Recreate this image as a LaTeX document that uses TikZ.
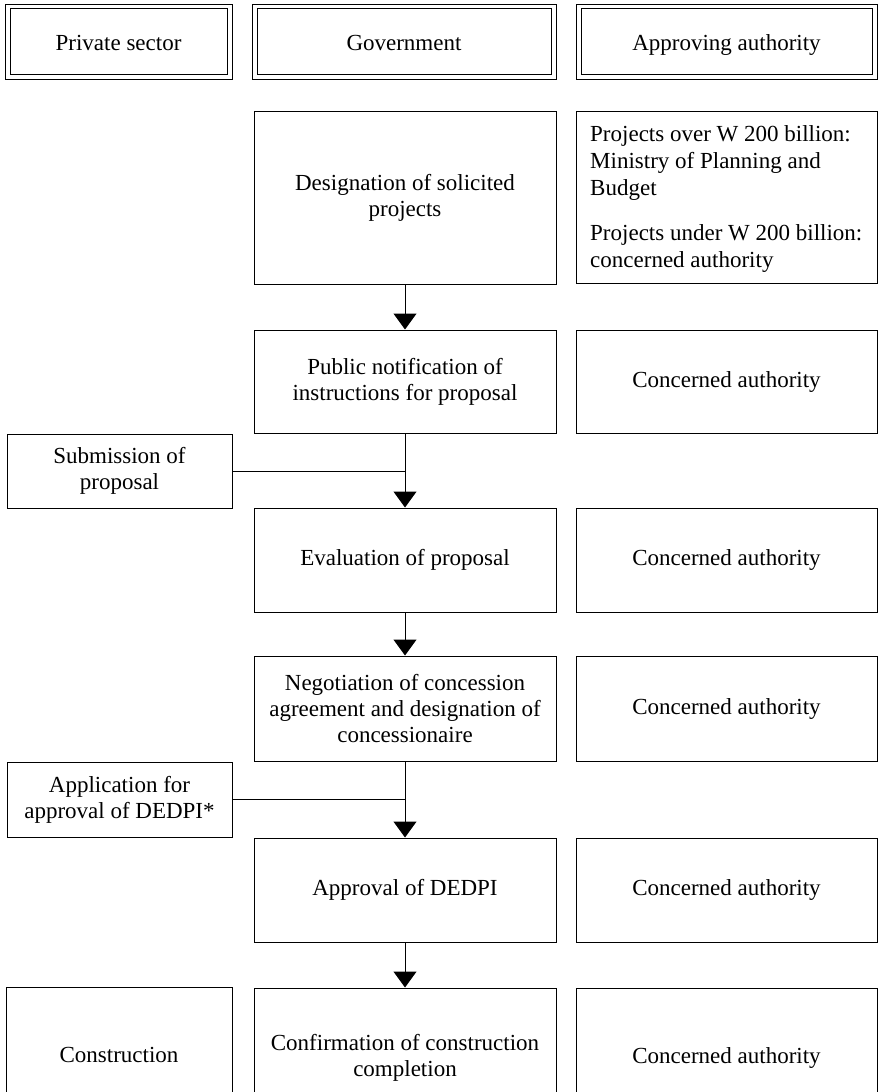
\documentclass[tikz,border=0pt]{standalone}
\usepackage{fontspec}
\setmainfont{Liberation Serif}
\usetikzlibrary{arrows.meta}
\begin{document}
\begin{tikzpicture}[x=1pt,y=-1pt,
  every node/.style={font=\fontsize{23}{26}\selectfont, align=center, inner sep=0pt},
  box/.style={draw, line width=1pt},
  hdr/.style={draw, line width=1pt, minimum height=75pt, text height=20pt, text depth=3pt},
  inner/.style={line width=1pt},
  one/.style={text height=16pt, text depth=5pt},
  gov/.style={box, minimum width=302pt},
  auth/.style={box, minimum width=301pt},
  priv/.style={box, minimum width=225pt},
  arr/.style={line width=1pt, -{Triangle[width=23pt,length=16pt]}},
  feed/.style={line width=1pt}]
\useasboundingbox (0,0) rectangle (878,1092);
\clip (0,0) rectangle (878,1092);
% headers
\node[hdr, minimum width=227pt] (hp) at (118.5,41.5) {Private sector};
\node[hdr, minimum width=304pt] (hg) at (404,41.5) {Government};
\node[hdr, minimum width=301pt] (ha) at (726.5,41.5) {Approving authority};
\foreach \h in {hp,hg,ha}
  \draw[inner] ([xshift=5.5pt,yshift=-5pt]\h.north west) rectangle ([xshift=-5.5pt,yshift=5pt]\h.south east);
% government column
\node[gov, minimum height=173pt] (des) at (405,197.5) {Designation of solicited\\projects};
\node[gov, minimum height=103pt] (pub) at (405,381.5) {Public notification of\\instructions for proposal};
\node[gov, minimum height=104pt, one] (eva) at (405,560) {Evaluation of proposal};
\node[gov, minimum height=105pt] (neg) at (405,708.5) {Negotiation of concession\\agreement and designation of\\concessionaire};
\node[gov, minimum height=104pt, one] (apr) at (405,890) {Approval of DEDPI};
\node[gov, minimum height=140pt] (cnf) at (405,1058) {Confirmation of construction\\completion};
% approving authority column
\node[auth, minimum height=172pt] (a1) at (726.5,197) {};
\node[anchor=north west, align=left, font=\fontsize{23}{27}\selectfont] (a1t) at (590,125.5)
  {Projects over W 200 billion:\\Ministry of Planning and\\Budget\\[18pt]Projects under W 200 billion:\\concerned authority};
\node[auth, minimum height=103pt, one] (a2) at (726.5,381.5) {Concerned authority};
\node[auth, minimum height=104pt, one] (a3) at (726.5,560) {Concerned authority};
\node[auth, minimum height=105pt, one] (a4) at (726.5,708.5) {Concerned authority};
\node[auth, minimum height=104pt, one] (a5) at (726.5,890) {Concerned authority};
\node[auth, minimum height=140pt, one] (a6) at (726.5,1058) {Concerned authority};
% private sector column
\node[priv, minimum height=74pt] (sub) at (119.5,471) {Submission of\\proposal};
\node[priv, minimum height=75pt] (apl) at (119.5,799.5) {Application for\\approval of DEDPI*};
\node[box, minimum width=226pt, minimum height=140pt, one] (cst) at (119,1057) {Construction};
% connectors
\draw[arr] (des.south) -- (pub.north);
\draw[arr] (pub.south) -- (eva.north);
\draw[feed] (sub.east) -- (sub.east -| pub.south);
\draw[arr] (eva.south) -- (neg.north);
\draw[arr] (neg.south) -- (apr.north);
\draw[feed] (apl.east) -- (apl.east -| neg.south);
\draw[arr] (apr.south) -- (cnf.north);
\end{tikzpicture}
\end{document}
